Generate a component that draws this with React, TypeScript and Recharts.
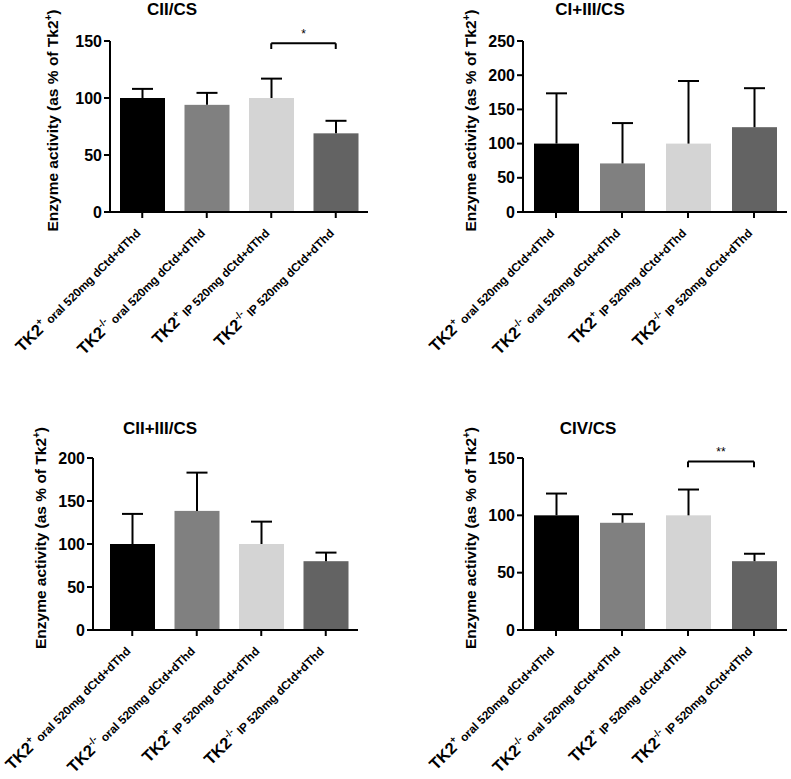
import { BarChart, Bar, XAxis, YAxis, Cell, ReferenceLine } from 'recharts';

const FONT = '"Liberation Sans", Arial, Helvetica, sans-serif';

// groups on the x axis (same four in every panel)
const groups = [
  'TK2+ oral 520mg dCtd+dThd',
  'TK2-/- oral 520mg dCtd+dThd',
  'TK2+ IP 520mg dCtd+dThd',
  'TK2-/- IP 520mg dCtd+dThd',
];
const BAR_COLORS = ['#000000', '#808080', '#d4d4d4', '#636363'];

// mean and upper error (% of Tk2+)
const ciiMean = [100, 94, 100, 69];
const ciiErr = [8, 10.5, 17, 11];
const ci3Mean = [100, 71, 100, 124];
const ci3Err = [73.5, 59, 91.5, 57];
const cii3Mean = [100, 138.5, 100, 80];
const cii3Err = [35, 44.5, 26, 10];
const civMean = [100, 93.5, 100, 60];
const civErr = [19, 7.5, 22.5, 6.5];

const ticks150 = [0, 50, 100, 150];
const ticks200 = [0, 50, 100, 150, 200];
const ticks250 = [0, 50, 100, 150, 200, 250];

const toRows = (mean: number[], err: number[]) =>
  groups.map((g, i) => ({ group: g, mean: mean[i], err: err[i] }));

function BarWithError(props: any) {
  const { x, y, width, height, fill, payload } = props;
  const cx = x + width / 2;
  const k = height / payload.mean;
  const top = y - payload.err * k;
  return (
    <g>
      <rect x={x} y={y} width={width} height={height} fill={fill} />
      <line x1={cx} y1={y} x2={cx} y2={top} stroke="#000" strokeWidth={2} />
      <line x1={cx - 10.5} y1={top} x2={cx + 10.5} y2={top} stroke="#000" strokeWidth={2} />
    </g>
  );
}

function GroupTick(props: any) {
  const { x, y, payload } = props;
  const m = /^TK2(\S+) (.*)$/.exec(payload.value) || ['', '', payload.value];
  return (
    <g transform={`translate(${x - 1},${y + 14}) rotate(-45)`}>
      <text x={0} y={0} textAnchor="end" fontFamily={FONT} fontWeight="bold" fill="#000">
        <tspan fontSize={16.5}>TK2</tspan>
        <tspan fontSize={10} dy={-7}>{m[1]}</tspan>
        <tspan fontSize={11.8} dy={7}>{' ' + m[2]}</tspan>
      </text>
    </g>
  );
}

function YTitle(props: any) {
  const { viewBox, gap } = props;
  const bx = viewBox.x + viewBox.width - gap;
  const cy = viewBox.y + viewBox.height / 2 - 6;
  return (
    <text
      transform={`translate(${bx},${cy}) rotate(-90)`}
      textAnchor="middle"
      fontFamily={FONT}
      fontWeight="bold"
      fontSize={15.5}
      fill="#000"
    >
      Enzyme activity (as % of Tk2
      <tspan fontSize={10} dy={-6}>+</tspan>
      <tspan dy={6}>)</tspan>
    </text>
  );
}

interface PanelProps {
  title: string;
  titleX: number;
  titleTop: number;
  mean: number[];
  err: number[];
  ticks: number[];
  left: number;
  top: number;
  width: number;
  height: number;
  margin: { top: number; right: number; left: number; bottom: number };
  xAxisHeight: number;
  xPadLeft?: number;
  labelGap: number;
  bracket?: { y: number; drop: number; mark: string };
}

function Panel(p: PanelProps) {
  const rows = toRows(p.mean, p.err);
  const axisStyle = { stroke: '#000', strokeWidth: 2 };
  return (
    <>
      <div
        style={{
          position: 'absolute',
          left: p.titleX - 100,
          top: p.titleTop,
          width: 200,
          textAlign: 'center',
          fontFamily: FONT,
          fontWeight: 'bold',
          fontSize: 17,
          lineHeight: 1,
        }}
      >
        {p.title}
      </div>
      <div style={{ position: 'absolute', left: p.left, top: p.top }}>
        <BarChart width={p.width} height={p.height} data={rows} margin={p.margin} barSize={45}>
          <XAxis
            dataKey="group"
            interval={0}
            height={p.xAxisHeight}
            padding={{ left: p.xPadLeft || 0, right: 0 }}
            tick={<GroupTick />}
            tickSize={6}
            tickLine={axisStyle}
            axisLine={axisStyle}
          />
          <YAxis
            width={60}
            domain={[0, p.ticks[p.ticks.length - 1]]}
            ticks={p.ticks}
            interval={0}
            tickSize={6}
            tickLine={axisStyle}
            axisLine={axisStyle}
            tick={{ fill: '#000', fontSize: 16, fontWeight: 'bold', fontFamily: FONT }}
            label={{ content: (lp: any) => <YTitle {...lp} gap={p.labelGap} /> }}
          />
          <Bar dataKey="mean" shape={<BarWithError />} isAnimationActive={false}>
            {rows.map((r, i) => (
              <Cell key={r.group} fill={BAR_COLORS[i]} />
            ))}
          </Bar>
          {p.bracket && (
            <ReferenceLine
              segment={[
                { x: groups[2], y: p.bracket.y },
                { x: groups[3], y: p.bracket.y },
              ]}
              stroke="#000"
              strokeWidth={2}
              label={{ value: p.bracket.mark, position: 'top', fill: '#000', fontSize: 12, fontFamily: FONT }}
            />
          )}
          {p.bracket && (
            <ReferenceLine
              segment={[
                { x: groups[2], y: p.bracket.y },
                { x: groups[2], y: p.bracket.y - p.bracket.drop },
              ]}
              stroke="#000"
              strokeWidth={2}
            />
          )}
          {p.bracket && (
            <ReferenceLine
              segment={[
                { x: groups[3], y: p.bracket.y },
                { x: groups[3], y: p.bracket.y - p.bracket.drop },
              ]}
              stroke="#000"
              strokeWidth={2}
            />
          )}
        </BarChart>
      </div>
    </>
  );
}

export default function App() {
  return (
    <div style={{ position: 'absolute', left: 0, top: 0, width: 791, height: 779, background: '#fff' }}>
      <Panel
        title="CII/CS"
        titleX={172}
        titleTop={1}
        mean={ciiMean}
        err={ciiErr}
        ticks={ticks150}
        left={0}
        top={0}
        width={395}
        height={390}
        margin={{ top: 41, right: 27, left: 50, bottom: 0 }}
        xAxisHeight={178}
        labelGap={52}
        bracket={{ y: 148, drop: 5, mark: '*' }}
      />
      <Panel
        title="CI+III/CS"
        titleX={590}
        titleTop={1}
        mean={ci3Mean}
        err={ci3Err}
        ticks={ticks250}
        left={395}
        top={0}
        width={396}
        height={390}
        margin={{ top: 41, right: 4, left: 68, bottom: 0 }}
        xAxisHeight={178}
        labelGap={47}
      />
      <Panel
        title="CII+III/CS"
        titleX={160}
        titleTop={420}
        mean={cii3Mean}
        err={cii3Err}
        ticks={ticks200}
        left={0}
        top={400}
        width={395}
        height={379}
        margin={{ top: 58, right: 37, left: 33, bottom: 0 }}
        xAxisHeight={149}
        xPadLeft={7}
        labelGap={47}
      />
      <Panel
        title="CIV/CS"
        titleX={588}
        titleTop={420}
        mean={civMean}
        err={civErr}
        ticks={ticks150}
        left={395}
        top={400}
        width={396}
        height={379}
        margin={{ top: 58, right: 4, left: 68, bottom: 0 }}
        xAxisHeight={149}
        labelGap={47}
        bracket={{ y: 147, drop: 5, mark: '**' }}
      />
    </div>
  );
}
